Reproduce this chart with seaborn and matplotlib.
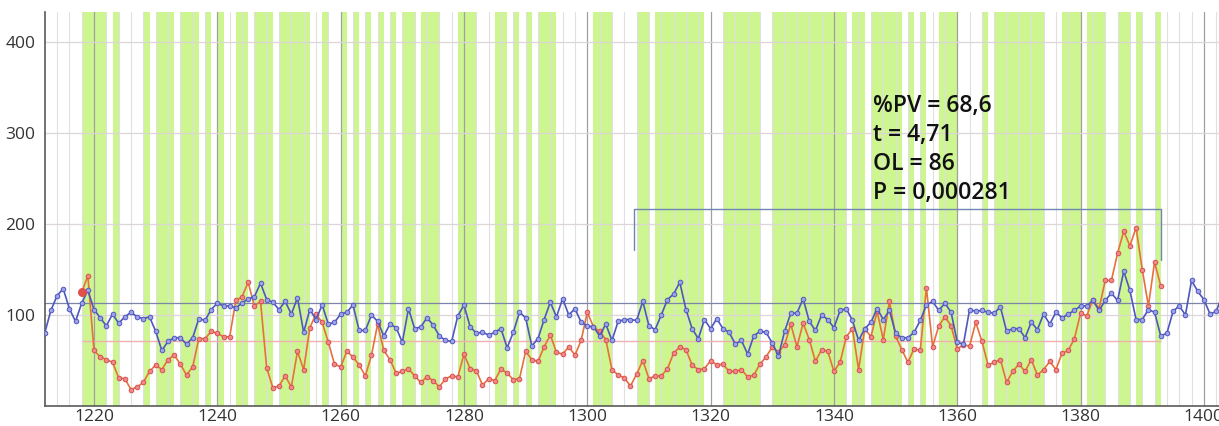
import numpy as np
import pandas as pd
import matplotlib
matplotlib.use("Agg")
import matplotlib.pyplot as plt
import seaborn as sns

# ---- series values (one point per time step) ----
blue_start = 1212
blue_values = [
    80, 105, 121, 129, 107, 93, 113, 127, 106, 97,      # 1212-1221
    88, 101, 91, 98, 103, 98, 96, 98, 82, 61,           # 1222-1231
    71, 75, 75, 68, 75, 96, 94, 106, 113, 110,          # 1232-1241
    110, 108, 113, 118, 120, 135, 117, 114, 106, 115,   # 1242-1251
    101, 119, 81, 106, 95, 111, 90, 92, 101, 103,       # 1252-1261
    111, 83, 83, 100, 93, 77, 90, 86, 70, 107,          # 1262-1271
    85, 87, 97, 89, 77, 72, 71, 99, 111, 87,            # 1272-1281
    80, 81, 78, 81, 85, 64, 81, 103, 97, 66,            # 1282-1291
    74, 95, 114, 98, 118, 100, 107, 92, 88, 87,         # 1292-1301
    77, 90, 72, 93, 95, 95, 94, 115, 88, 84,            # 1302-1311
    100, 117, 123, 136, 106, 85, 74, 95, 85, 96,        # 1312-1321
    85, 81, 68, 72, 57, 77, 82, 81, 69, 55,             # 1322-1331
    82, 102, 102, 118, 93, 83, 100, 95, 86, 105,        # 1332-1341
    107, 94, 72, 85, 92, 107, 95, 105, 80, 75,          # 1342-1351
    75, 81, 94, 111, 115, 105, 113, 103, 70, 68,        # 1352-1361
    106, 104, 105, 103, 102, 109, 82, 85, 85, 75,       # 1362-1371
    92, 84, 101, 90, 103, 97, 101, 105, 110, 110,       # 1372-1381
    116, 105, 116, 124, 116, 148, 127, 95, 95, 106,     # 1382-1391
    103, 77, 80, 104, 110, 100, 138, 126, 117, 101,     # 1392-1401
    104, 122,                                           # 1402-1403
]

red_start = 1218
red_values = [
    125, 143, 61, 54, 51, 48, 31, 30, 18, 21,           # 1218-1227
    26, 38, 45, 40, 51, 56, 46, 34, 43, 74,             # 1228-1237
    74, 82, 80, 76, 76, 116, 120, 136, 110, 115,        # 1238-1247
    42, 20, 22, 33, 21, 60, 40, 86, 101, 92,            # 1248-1257
    70, 46, 43, 60, 54, 45, 33, 56, 90, 61,             # 1258-1267
    51, 36, 38, 41, 33, 26, 32, 28, 21, 30,             # 1268-1277
    33, 32, 57, 41, 39, 23, 30, 28, 41, 36,             # 1278-1287
    29, 30, 60, 51, 49, 65, 78, 59, 57, 65,             # 1288-1297
    56, 72, 103, 87, 82, 73, 40, 34, 31, 22,            # 1298-1307
    35, 50, 30, 33, 33, 41, 58, 65, 62, 45,             # 1308-1317
    40, 41, 50, 45, 46, 38, 38, 40, 32, 34,             # 1318-1327
    46, 54, 65, 59, 67, 90, 65, 91, 73, 49,             # 1328-1337
    62, 60, 38, 48, 76, 85, 40, 85, 76, 104,            # 1338-1347
    73, 115, 77, 62, 48, 63, 61, 130, 65, 88,           # 1348-1357
    98, 88, 63, 67, 66, 92, 71, 45, 48, 51,             # 1358-1367
    26, 38, 46, 38, 51, 34, 40, 49, 40, 58,             # 1368-1377
    61, 74, 102, 99, 117, 107, 138, 138, 168, 192,      # 1378-1387
    176, 196, 150, 110, 158, 132,                       # 1388-1393
]

# reference levels
blue_level = 112.8
red_level = 71.8

# highlighted intervals [start, end)
band_start = [1218, 1223, 1228, 1230, 1234, 1238, 1240, 1243, 1246, 1250,
              1257, 1260, 1262, 1264, 1266, 1268, 1270, 1273, 1279, 1285,
              1288, 1290, 1292, 1301, 1308, 1311, 1322, 1330, 1343, 1346,
              1352, 1354, 1357, 1364, 1366, 1377, 1381, 1386, 1389, 1392]
band_end = [1222, 1224, 1229, 1233, 1237, 1239, 1241, 1245, 1249, 1255,
            1258, 1261, 1263, 1265, 1267, 1269, 1272, 1276, 1282, 1287,
            1289, 1291, 1295, 1304, 1310, 1319, 1328, 1342, 1345, 1351,
            1353, 1355, 1360, 1365, 1374, 1380, 1384, 1388, 1390, 1393]

# comparison bracket and statistics
bracket_from, bracket_to = 1307.6, 1393.0
bracket_top, bracket_left_low, bracket_right_low = 216.5, 171.0, 160.0
stats_lines = ["%PV = 68,6", "t = 4,71", "OL = 86", "P = 0,000281"]

x_ticks = [1220, 1240, 1260, 1280, 1300, 1320, 1340, 1360, 1380, 1400]
y_ticks = [100, 200, 300, 400]

blue_df = pd.DataFrame({"t": np.arange(blue_start, blue_start + len(blue_values)),
                        "v": blue_values})
red_df = pd.DataFrame({"t": np.arange(red_start, red_start + len(red_values)),
                       "v": red_values})

sns.set_theme(style="white")
plt.rcParams["font.family"] = ["Open Sans", "DejaVu Sans"]

fig = plt.figure(figsize=(12.19, 4.26), dpi=100)
ax = fig.add_axes([45 / 1219, 20 / 426, 1174 / 1219, 394 / 426])

px_per_unit = 6.166
x_left = 1212.05
ax.set_xlim(x_left, x_left + 1174 / px_per_unit)
ax.set_ylim(0, 433)

# green highlighted steps
for s, e in zip(band_start, band_end):
    ax.axvspan(s, e, color="#cdf590", lw=0, zorder=0.2)

# grid: light minor lines every 2, darker lines every 20
ax.set_axisbelow(True)
ax.set_xticks(x_ticks)
ax.set_xticks(np.arange(1214, 1404, 2), minor=True)
ax.set_yticks(y_ticks)
ax.grid(which="minor", axis="x", color="#e0e0e0", lw=0.8)
ax.grid(which="major", axis="x", color="#a0a0a0", lw=0.9)
ax.grid(which="major", axis="y", color="#dcd6d6", lw=0.9)

# reference levels
ax.axhline(blue_level, color="#7d86a8", lw=0.9, zorder=1.2)
ax.hlines(red_level, red_start, bracket_to, color="#eeb0b0", lw=1.0, zorder=1.2)

sns.lineplot(data=red_df, x="t", y="v", ax=ax, color="#e8703a", lw=1.2,
             marker="o", markersize=3.3, markerfacecolor="#f08a8a",
             markeredgecolor="#d65050", markeredgewidth=0.7, zorder=3)
sns.lineplot(data=blue_df, x="t", y="v", ax=ax, color="#4d57bd", lw=1.2,
             marker="o", markersize=3.3, markerfacecolor="#9ea3e6",
             markeredgecolor="#5058c0", markeredgewidth=0.7, zorder=4)
ax.plot(red_df["t"].iloc[0], red_df["v"].iloc[0], "o", ms=5.5,
        color="#e0504a", zorder=5)

# bracket
bc = "#6f86b5"
ax.plot([bracket_from, bracket_from, bracket_to, bracket_to],
        [bracket_left_low, bracket_top, bracket_top, bracket_right_low],
        color=bc, lw=1.0, zorder=4)

# statistics text
for i, line in enumerate(stats_lines):
    ax.annotate(line, xy=(1346.4, 323.4), xytext=(0, -21.0 * i),
                textcoords="offset points", fontsize=16.6, weight="semibold",
                color="#111111", ha="left", va="baseline", zorder=6)

ax.set_xlabel("")
ax.set_ylabel("")
for side in ("top", "right"):
    ax.spines[side].set_visible(False)
for side in ("left", "bottom"):
    ax.spines[side].set_color("#5a5a5a")
    ax.spines[side].set_linewidth(1.2)
ax.tick_params(axis="both", which="both", length=0, labelsize=12.5,
               labelcolor="#333333")
ax.tick_params(axis="y", pad=7)
ax.tick_params(axis="x", pad=2)

fig.savefig("out.png", dpi=100)
